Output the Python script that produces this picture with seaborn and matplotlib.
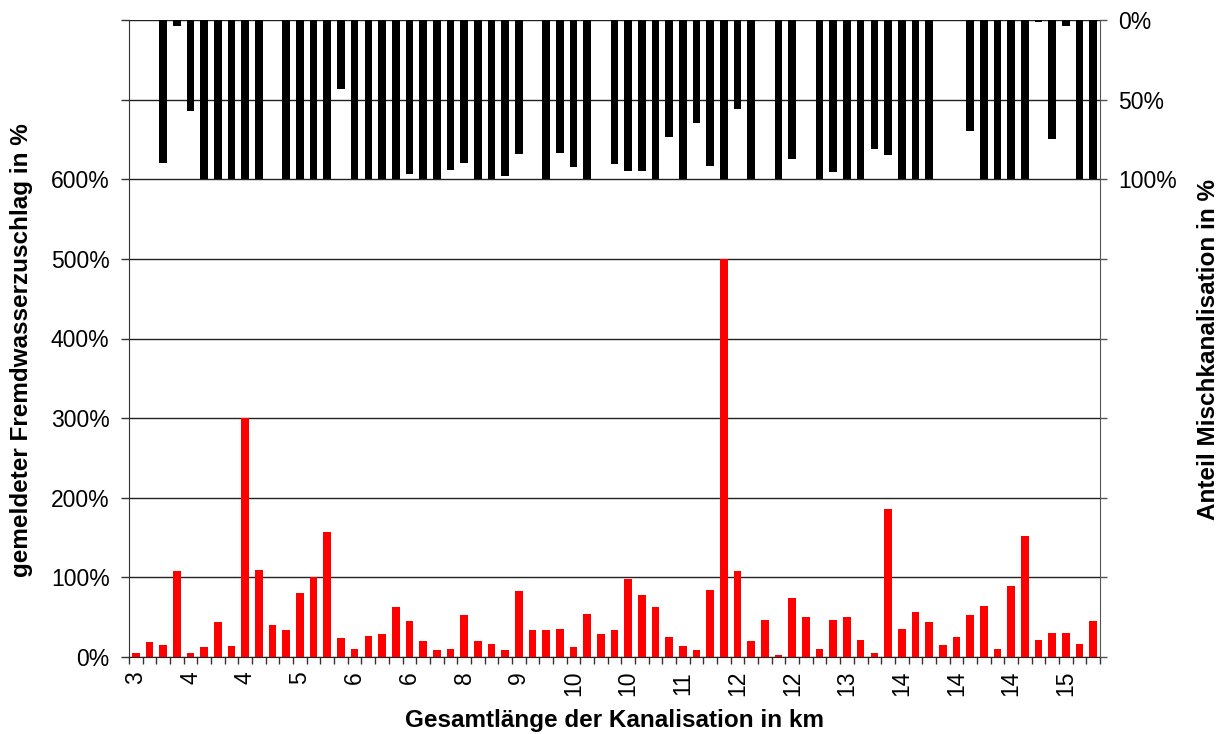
import numpy as np
import pandas as pd
import matplotlib.pyplot as plt
import seaborn as sns

# reported infiltration surcharge in % (red, left axis)
fremdwasser = [5.5, 18.6, 15.6, 107.6, 5.5, 12.2, 43.5, 13.9, 300, 109.3,
               39.7, 33.3, 81, 100, 156.5, 23.6, 10.5, 27, 28.3, 62.9,
               44.7, 20.7, 8.9, 10.5, 53.2, 20.7, 16.9, 8.9, 82.7, 33.3,
               33.3, 35, 12.2, 53.6, 28.3, 33.3, 97.5, 77.6, 62.9, 25.3,
               13.9, 8.9, 84.4, 500, 107.6, 20.3, 46.8, 2.5, 74.7, 49.8,
               10.5, 46.8, 49.8, 21.9, 5.5, 186, 35, 56.5, 43.5, 15.6,
               25.3, 53.2, 64.6, 10.5, 89.5, 151.5, 21.9, 30.4, 30.4, 16.9, 44.7]

# share of combined sewer in % (black, right axis, hanging from top)
nan = np.nan
mischanteil = [nan, nan, 89.7, 4, 57, 100, 100, 100, 100, 100,
               nan, 100, 100, 100, 100, 43.6, 100, 100, 100, 100,
               97, 100, 100, 93.9, 89.7, 100, 100, 98, 84, nan,
               100, 83.4, 92.4, 100, nan, 90.5, 94.7, 94.7, 100, 73.3,
               100, 64.4, 91.4, 100, 56.2, 100, nan, 100, 87.4, nan,
               100, 95.6, 100, 100, 80.8, 84.6, 100, 100, 100, nan,
               nan, 69.9, 100, 100, 100, 100, 1.3, 75, 3.8, 100, 100]

# every 4th category gets a length label (km)
km_labels = ["3", "4", "4", "5", "6", "6", "8", "9", "10", "10",
             "11", "12", "12", "13", "14", "14", "14", "15"]
label_step = 4

n = len(fremdwasser)
cats = [f"K{i:02d}" for i in range(n)]
df = pd.DataFrame({"kanal": cats, "fremd": fremdwasser, "misch": mischanteil})

sns.set_style("ticks")
plt.rcParams['font.family'] = ['Liberation Sans', 'DejaVu Sans']
plt.rcParams['text.color'] = 'black'
plt.rcParams['axes.labelcolor'] = 'black'
plt.rcParams['xtick.color'] = 'black'
plt.rcParams['ytick.color'] = 'black'

fig = plt.figure(figsize=(12.25, 7.34), dpi=100)
ax = fig.add_axes([129 / 1225, 1 - 657 / 734, 971 / 1225, 637 / 734])

sns.barplot(data=df, x="kanal", y="fremd", order=cats, color="#ff0000",
            saturation=1, width=0.56, errorbar=None, linewidth=0, ax=ax)
ax2 = ax.twinx()
sns.barplot(data=df, x="kanal", y="misch", order=cats, color="black",
            saturation=1, width=0.56, errorbar=None, linewidth=0, ax=ax2)

# left axis
ax.set_ylim(0, 800)
yt = list(range(0, 801, 100))
ax.set_yticks(yt)
ax.set_yticklabels([f"{v}%" if v <= 600 else "" for v in yt])
ax.set_axisbelow(True)
ax.grid(axis="y", color="#222222", lw=1)
ax.grid(axis="x", visible=False)
ax.tick_params(axis="y", direction="out", length=6, width=1, pad=8,
               labelsize=16.5, color="#333333", labelcolor="black")

# right axis (inverted)
ax2.set_ylim(400, 0)
yt2 = list(range(0, 401, 50))
ax2.set_yticks(yt2)
ax2.set_yticklabels([f"{v}%" if v <= 100 else "" for v in yt2])
ax2.tick_params(axis="y", direction="out", length=5, width=1, pad=8,
                labelsize=16.5, color="#555555", labelcolor="black")
ax2.grid(False)

# x axis: ticks at category boundaries, labels on every 4th bar
ax.set_xlim(-0.5, n - 0.5)
ax2.set_xlim(-0.5, n - 0.5)
pos = list(range(0, n, label_step))[:len(km_labels)]
ax.set_xticks(pos)
ax.set_xticklabels(km_labels, rotation=90)
ax.set_xticks(np.arange(-0.5, n, 1.0), minor=True)
ax.tick_params(axis="x", which="major", length=0, pad=10, labelsize=16.5,
               labelcolor="black")
ax.tick_params(axis="x", which="minor", direction="out", length=5, width=1,
               color="#333333")

for a in (ax, ax2):
    a.spines["top"].set_visible(False)
ax.spines["right"].set_visible(False)
ax2.spines["left"].set_visible(False)
ax2.spines["bottom"].set_visible(False)
ax.spines["left"].set_color("#333333")
ax.spines["bottom"].set_color("#222222")
ax2.spines["right"].set_color("#555555")

ax.set_xlabel("Gesamtlänge der Kanalisation in km", fontsize=17.5, fontweight="bold")
ax.xaxis.set_label_coords(0.5, (657 - 720) / 637)
ax.xaxis.label.set_va("center")
ax.set_ylabel("gemeldeter Fremdwasserzuschlag in %", fontsize=17.5, fontweight="bold")
ax.yaxis.set_label_coords((22 - 129) / 971, (657 - 350) / 637)
ax.yaxis.label.set_va("center")
ax2.set_ylabel("Anteil Mischkanalisation in %", fontsize=17.5, fontweight="bold")
ax2.yaxis.set_label_coords((1208 - 129) / 971, (657 - 350) / 637)
ax2.yaxis.label.set_va("center")

fig.savefig("out.png", dpi=100)
